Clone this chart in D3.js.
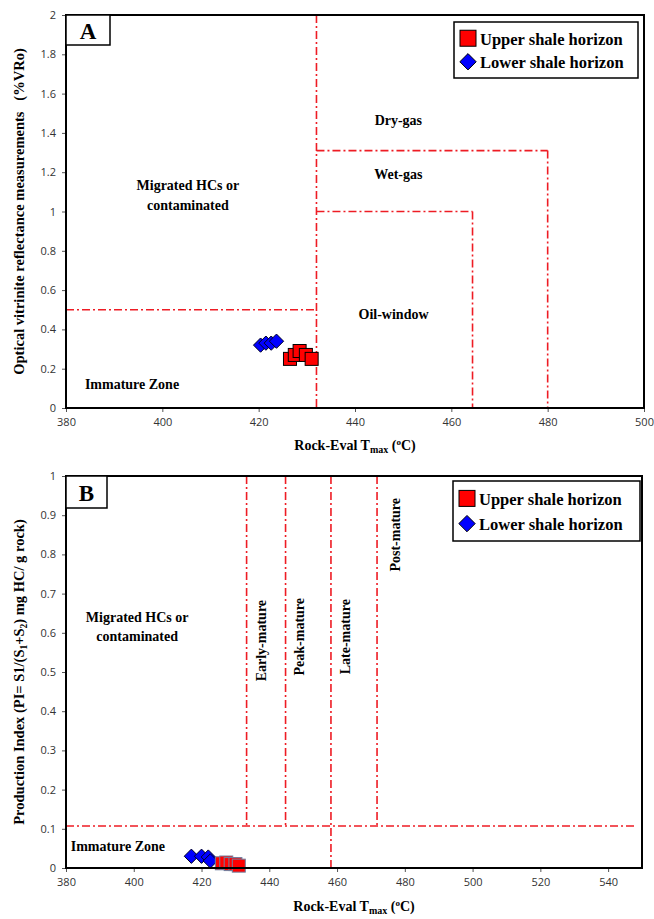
<!DOCTYPE html>
<html>
<head>
<meta charset="utf-8">
<script src="https://cdn.jsdelivr.net/npm/d3@7"></script>
<style>
  body { margin: 0; background: #fff; }
  svg { display: block; }
</style>
</head>
<body>
<svg id="chart" width="654" height="919"></svg>
<script>
// ---------- Panel A: Tmax vs vitrinite reflectance ----------
const xTicksA = [380, 400, 420, 440, 460, 480, 500];
const yTicksA = [0, 0.2, 0.4, 0.6, 0.8, 1, 1.2, 1.4, 1.6, 1.8, 2];
const upperTmaxA = [426.5, 427.5, 428.5, 429.8, 431.0];
const upperVRoA  = [0.25, 0.27, 0.29, 0.27, 0.25];
const lowerTmaxA = [420.4, 421.5, 422.6, 423.7];
const lowerVRoA  = [0.32, 0.33, 0.33, 0.34];
// zone boundaries [x1, y1, x2, y2] in axis units
const zonesA = [
  [432, 2, 432, 0],
  [380, 0.5, 432, 0.5],
  [432, 1.31, 480, 1.31],
  [480, 1.31, 480, 0],
  [432, 1.0, 464.4, 1.0],
  [464.4, 1.0, 464.4, 0]
];
const zoneLabelsA = [
  { text: "Dry-gas", x: 449, y: 1.465 },
  { text: "Wet-gas", x: 449, y: 1.19 },
  { text: "Oil-window", x: 448, y: 0.478 },
  { text: "Migrated HCs or", x: 405.3, y: 1.13 },
  { text: "contaminated", x: 405.3, y: 1.03 },
  { text: "Immature Zone", x: 393.7, y: 0.12 }
];

// ---------- Panel B: Tmax vs production index ----------
const xTicksB = [380, 400, 420, 440, 460, 480, 500, 520, 540];
const yTicksB = [0, 0.1, 0.2, 0.3, 0.4, 0.5, 0.6, 0.7, 0.8, 0.9, 1];
const upperTmaxB = [426.0, 427.3, 428.6, 430.0, 431.0];
const upperPIB   = [0.012, 0.014, 0.010, 0.010, 0.006];
const lowerTmaxB = [417.0, 420.0, 422.0, 422.6];
const lowerPIB   = [0.030, 0.030, 0.028, 0.018];
const zonesB = [
  [380, 0.107, 548, 0.107],
  [433.3, 1, 433.3, 0.107],
  [444.8, 1, 444.8, 0.107],
  [458.2, 1, 458.2, 0],
  [471.8, 1, 471.8, 0.107]
];
const zoneLabelsB = [
  { text: "Early-mature", x: 437.8, y: 0.58, rot: true },
  { text: "Peak-mature", x: 449.0, y: 0.59, rot: true },
  { text: "Late-mature", x: 462.6, y: 0.59, rot: true },
  { text: "Post-mature", x: 477.2, y: 0.85, rot: true },
  { text: "Migrated HCs or", x: 401, y: 0.64 },
  { text: "contaminated", x: 401, y: 0.59 },
  { text: "Immature Zone", x: 395.3, y: 0.056 }
];

const seriesNames = ["Upper shale horizon", "Lower shale horizon"];

const svg = d3.select("#chart");
const serif = "'Liberation Serif', 'Times New Roman', serif";
const sans = "'Open Sans', 'Noto Sans', sans-serif";

function drawPanel(opt) {
  const x = d3.scaleLinear().domain(opt.xDomain).range([opt.left, opt.right]);
  const y = d3.scaleLinear().domain(opt.yDomain).range([opt.bottom, opt.top]);
  const g = svg.append("g");

  // clip for plot contents
  const clipId = "clip" + opt.name;
  g.append("clipPath").attr("id", clipId).append("rect")
    .attr("x", opt.left).attr("y", opt.top - 2)
    .attr("width", opt.right - opt.left).attr("height", opt.bottom - opt.top + 8);

  // axes
  const xAxis = g.append("g").attr("transform", `translate(0,${opt.bottom})`)
    .call(d3.axisBottom(x).tickValues(opt.xTicks).tickSize(4).tickPadding(6).tickFormat(d3.format("d")));
  const yAxis = g.append("g").attr("transform", `translate(${opt.left},0)`)
    .call(d3.axisLeft(y).tickValues(opt.yTicks).tickSize(4).tickPadding(6).tickFormat(d => d3.format("")(+d.toFixed(2))));
  [xAxis, yAxis].forEach(a => {
    a.select(".domain").remove();
    a.selectAll(".tick line").attr("stroke", "#555");
    a.selectAll(".tick text").attr("fill", "#333").style("font-family", sans).style("font-size", "11px");
  });

  // zone boundaries
  g.append("g").attr("clip-path", `url(#${clipId})`)
    .selectAll("line").data(opt.zones).join("line")
    .attr("x1", d => x(d[0])).attr("y1", d => y(d[1]))
    .attr("x2", d => x(d[2])).attr("y2", d => y(d[3]))
    .attr("stroke", "#ee1c24").attr("stroke-width", 1.6)
    .attr("stroke-dasharray", "8,3,2,3");

  // zone labels
  g.append("g").selectAll("text").data(opt.labels).join("text")
    .attr("transform", d => `translate(${x(d.x)},${y(d.y)})` + (d.rot ? " rotate(-90)" : ""))
    .attr("text-anchor", "middle").attr("dominant-baseline", "central")
    .style("font-family", serif).style("font-weight", "bold").style("font-size", "14px")
    .text(d => d.text);

  // markers
  const pts = g.append("g").attr("clip-path", `url(#${clipId})`);
  const lower = opt.lowerX.map((v, i) => [v, opt.lowerY[i]]);
  const upper = opt.upperX.map((v, i) => [v, opt.upperY[i]]);
  const dSym = d3.symbol().type(d3.symbolDiamond2).size(opt.diamondSize);
  pts.selectAll("path.lower").data(lower).join("path").attr("class", "lower")
    .attr("d", dSym)
    .attr("transform", d => `translate(${x(d[0])},${y(d[1])})`)
    .attr("fill", "#0000ff").attr("stroke", opt.diamondStroke).attr("stroke-width", 1);
  const s = opt.squareSize;
  pts.selectAll("rect.upper").data(upper).join("rect").attr("class", "upper")
    .attr("x", d => x(d[0]) - s / 2).attr("y", d => y(d[1]) - s / 2)
    .attr("width", s).attr("height", s)
    .attr("fill", "#ff0000").attr("stroke", opt.squareStroke).attr("stroke-width", 1);

  // frame
  g.append("rect").attr("x", opt.left).attr("y", opt.top)
    .attr("width", opt.right - opt.left).attr("height", opt.bottom - opt.top)
    .attr("fill", "none").attr("stroke", "#000").attr("stroke-width", 2);

  // panel letter box
  g.append("rect").attr("x", opt.left).attr("y", opt.top)
    .attr("width", opt.letterW).attr("height", opt.letterH)
    .attr("fill", "#fff").attr("stroke", "#000").attr("stroke-width", 1.5);
  g.append("text").attr("x", opt.left + opt.letterW / 2).attr("y", opt.top + opt.letterH / 2 + 1)
    .attr("text-anchor", "middle").attr("dominant-baseline", "central")
    .style("font-family", serif).style("font-weight", "bold").style("font-size", "23px")
    .text(opt.name);

  // legend
  const lg = g.append("g");
  lg.append("rect").attr("x", opt.legX).attr("y", opt.legY).attr("width", opt.legW).attr("height", opt.legH)
    .attr("fill", "#fff").attr("stroke", "#000").attr("stroke-width", 1.5);
  const rowY = [opt.legY + opt.legH * 0.29, opt.legY + opt.legH * 0.71];
  lg.append("rect").attr("x", opt.legX + 6).attr("y", rowY[0] - 8).attr("width", 16).attr("height", 16)
    .attr("fill", "#ff0000").attr("stroke", "#000").attr("stroke-width", 1);
  lg.append("path").attr("d", d3.symbol().type(d3.symbolDiamond2).size(170)())
    .attr("transform", `translate(${opt.legX + 14},${rowY[1]})`)
    .attr("fill", "#0000ff").attr("stroke", "#000").attr("stroke-width", 1);
  lg.selectAll("text").data(seriesNames).join("text")
    .attr("x", opt.legX + 26).attr("y", (d, i) => rowY[i] + 1)
    .attr("dominant-baseline", "central")
    .style("font-family", serif).style("font-weight", "bold").style("font-size", "16.5px")
    .text(d => d);

  // x title
  const xt = g.append("text").attr("x", (opt.left + opt.right) / 2).attr("y", opt.xTitleY)
    .attr("text-anchor", "middle")
    .style("font-family", serif).style("font-weight", "bold").style("font-size", "14px");
  xt.append("tspan").text("Rock-Eval T");
  xt.append("tspan").attr("dy", 3).style("font-size", "10px").text("max");
  xt.append("tspan").attr("dy", -3).text(" (");
  xt.append("tspan").attr("dy", -5).style("font-size", "9px").text("o");
  xt.append("tspan").attr("dy", 5).text("C)");

  // y title
  const yt = g.append("text")
    .attr("transform", `translate(${opt.yTitleX},${(opt.top + opt.bottom) / 2}) rotate(-90)`)
    .attr("text-anchor", "middle")
    .style("font-family", serif).style("font-weight", "bold").style("font-size", "14.5px");
  opt.yTitle(yt);
}

drawPanel({
  name: "A",
  xDomain: [380, 500], yDomain: [0, 2],
  left: 66, right: 644, top: 15, bottom: 408,
  xTicks: xTicksA, yTicks: yTicksA,
  zones: zonesA, labels: zoneLabelsA,
  upperX: upperTmaxA, upperY: upperVRoA, lowerX: lowerTmaxA, lowerY: lowerVRoA,
  squareSize: 13, squareStroke: "#000", diamondSize: 130, diamondStroke: "#000022",
  letterW: 44, letterH: 30,
  legX: 454, legY: 22, legW: 184, legH: 56,
  xTitleY: 450, yTitleX: 24,
  yTitle: t => {
    t.append("tspan").attr("xml:space", "preserve").text("Optical vitrinite reflectance measurements   (%VRo)");
  }
});

drawPanel({
  name: "B",
  xDomain: [380, 550], yDomain: [0, 1],
  left: 66, right: 642, top: 476, bottom: 868,
  xTicks: xTicksB, yTicks: yTicksB,
  zones: zonesB, labels: zoneLabelsB,
  upperX: upperTmaxB, upperY: upperPIB, lowerX: lowerTmaxB, lowerY: lowerPIB,
  squareSize: 13, squareStroke: "#7080a0", diamondSize: 130, diamondStroke: "#000022",
  letterW: 41, letterH: 32,
  legX: 453, legY: 481, legW: 187, legH: 60,
  xTitleY: 911, yTitleX: 24,
  yTitle: t => {
    t.append("tspan").text("Production Index (PI= S1/(S");
    t.append("tspan").attr("dy", 3).style("font-size", "9.5px").text("1");
    t.append("tspan").attr("dy", -3).text("+S");
    t.append("tspan").attr("dy", 3).style("font-size", "9.5px").text("2");
    t.append("tspan").attr("dy", -3).text(") mg HC/ g rock)");
  }
});
</script>
</body>
</html>
